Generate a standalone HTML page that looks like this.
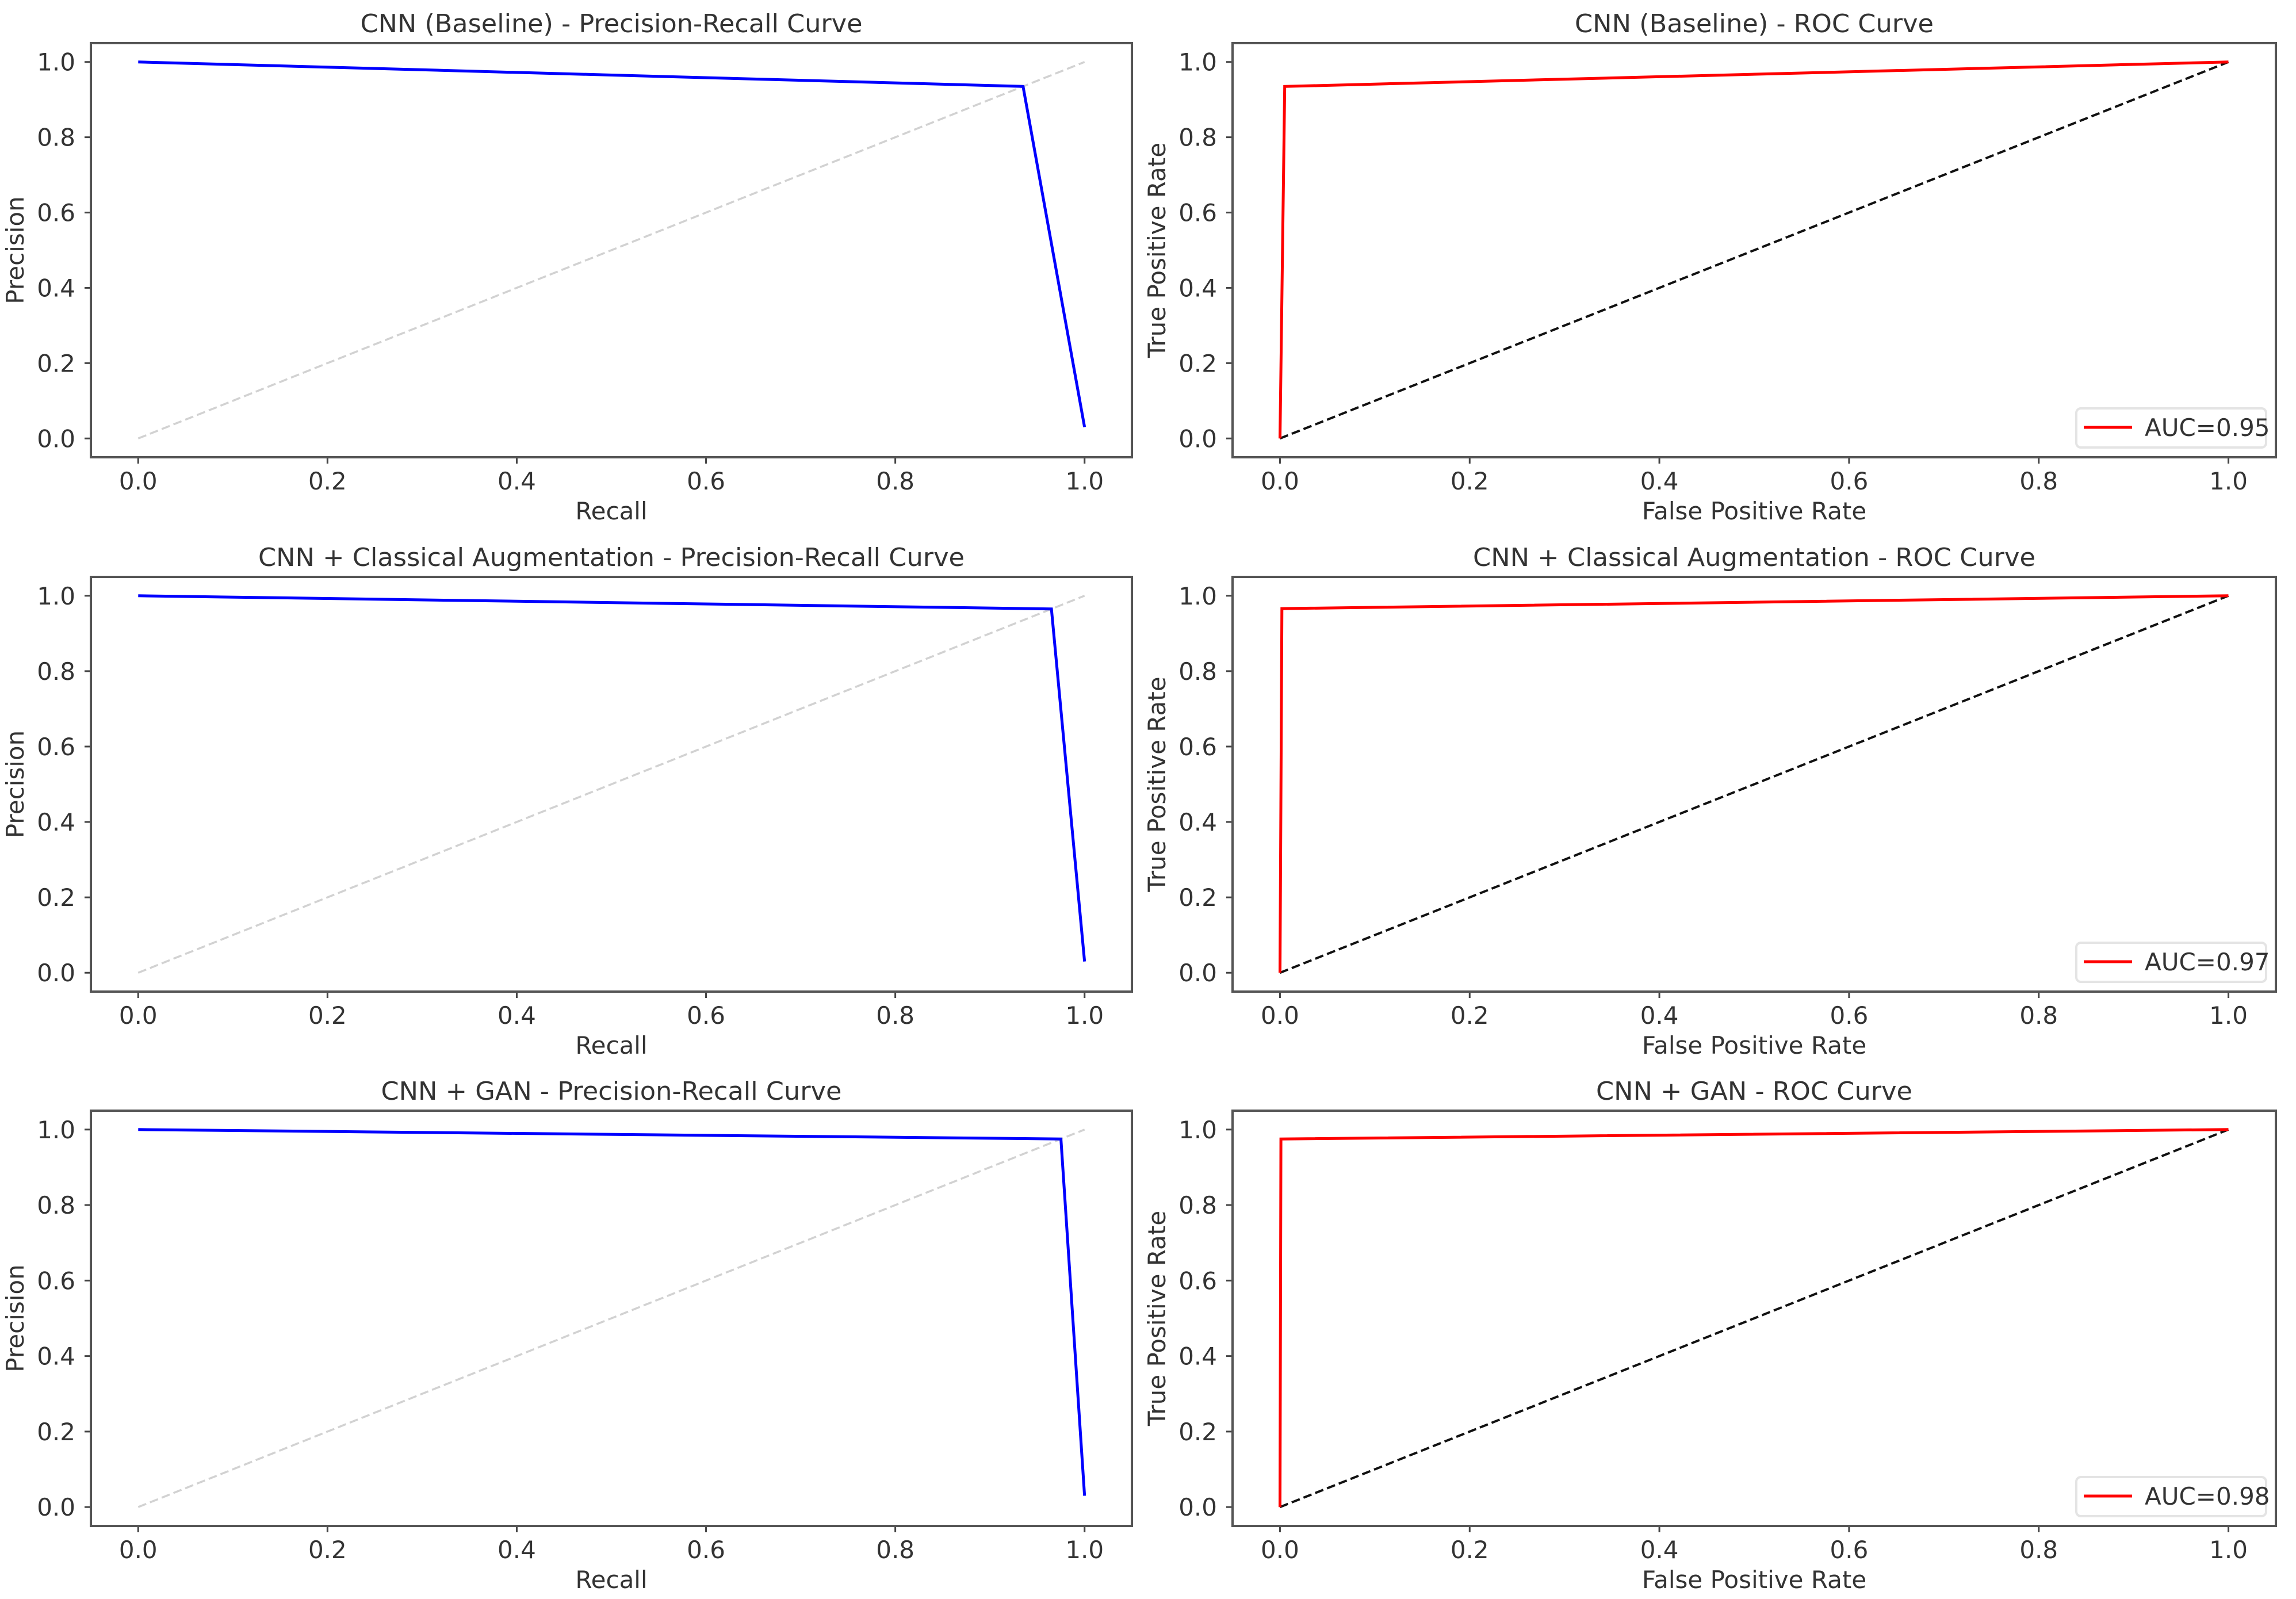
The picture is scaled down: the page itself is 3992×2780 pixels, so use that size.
<!DOCTYPE html>
<html><head><meta charset="utf-8">
<style>
html,body{margin:0;padding:0;background:#fff;}
svg{display:block;}
text{font-family:"DejaVu Sans","Liberation Sans",sans-serif;fill:#333;}
</style></head>
<body>
<svg id="fig" width="3992" height="2780" viewBox="0 0 3992 2780" xmlns="http://www.w3.org/2000/svg"></svg>
<script>
const modelNames = ["CNN (Baseline)", "CNN + Classical Augmentation", "CNN + GAN"];
const prRecall = [[0, 0.935, 1], [0, 0.965, 1], [0, 0.975, 1]];
const prPrecision = [[1, 0.935, 0.03], [1, 0.965, 0.03], [1, 0.975, 0.03]];
const rocFpr = [[0, 0.005, 1], [0, 0.002, 1], [0, 0.001, 1]];
const rocTpr = [[0, 0.935, 1], [0, 0.966, 1], [0, 0.975, 1]];
const aucLabels = ["AUC=0.95", "AUC=0.97", "AUC=0.98"];
const tickValues = [0, 0.2, 0.4, 0.6, 0.8, 1.0];
const tickLabels = ["0.0", "0.2", "0.4", "0.6", "0.8", "1.0"];
const prTitleWidths = [873, 1228, 801];
const rocTitleWidths = [624, 978, 550];

const NS = "http://www.w3.org/2000/svg";
const svg = document.getElementById("fig");
function mk(tag, attrs, parent) {
  const e = document.createElementNS(NS, tag);
  for (const k in attrs) e.setAttribute(k, attrs[k]);
  (parent || svg).appendChild(e);
  return e;
}
const XMIN = -0.05, XMAX = 1.05, YMIN = -0.05, YMAX = 1.05;
const cols = [{l: 158, r: 1968}, {l: 2143, r: 3957}];
const rows = [{t: 75, b: 795}, {t: 1003, b: 1724}, {t: 1931, b: 2653}];

function panel(ri, ci, kind) {
  const c = cols[ci], r = rows[ri];
  const g = mk("g", {});
  
  
  const sx = v => c.l + (v - XMIN) / (XMAX - XMIN) * (c.r - c.l);
  const sy = v => r.b - (v - YMIN) / (YMAX - YMIN) * (r.b - r.t);
  const title = mk("text", {x: (c.l + c.r) / 2, y: r.t - 19, "text-anchor": "middle", "font-size": 44,
    textLength: kind === 'pr' ? prTitleWidths[ri] : rocTitleWidths[ri], lengthAdjust: "spacingAndGlyphs"}, g);
  title.textContent = modelNames[ri] + (kind === 'pr' ? " - Precision-Recall Curve" : " - ROC Curve");
  
  
  tickValues.forEach((v, i) => {
    const x = sx(v);
    mk("line", {x1: x, x2: x, y1: r.b, y2: r.b + 11, stroke: "#444", "stroke-width": 3}, g);
    const tx = mk("text", {x: x, y: r.b + 56, "text-anchor": "middle", "font-size": 42}, g);
    tx.textContent = tickLabels[i];
    
    
    const y = sy(v);
    mk("line", {x1: c.l - 11, x2: c.l, y1: y, y2: y, stroke: "#444", "stroke-width": 3}, g);
    const ty = mk("text", {x: c.l - 27, y: y + 15, "text-anchor": "end", "font-size": 42}, g);
    ty.textContent = tickLabels[i];
    
    
  });
  const xl = mk("text", {x: (c.l + c.r) / 2, y: r.b + 108, "text-anchor": "middle", "font-size": 42}, g);
  xl.textContent = kind === 'pr' ? "Recall" : "False Positive Rate";
  
  
  const ycx = c.l - 117, ycy = (r.t + r.b) / 2;
  const yl = mk("text", {x: ycx, y: ycy, "text-anchor": "middle", "font-size": 42, transform: `rotate(-90 ${ycx} ${ycy})`}, g);
  yl.textContent = kind === 'pr' ? "Precision" : "True Positive Rate";
  
  
  const diag = mk("line", {x1: sx(0), y1: sy(0), x2: sx(1), y2: sy(1),
    stroke: kind === 'pr' ? "#d2d2d2" : "#111", "stroke-width": kind === 'pr' ? 3.5 : 4, "stroke-dasharray": "15 7"}, g);
  
  
  const xs = kind === 'pr' ? prRecall[ri] : rocFpr[ri];
  const ys = kind === 'pr' ? prPrecision[ri] : rocTpr[ri];
  const pts = xs.map((v, i) => sx(v).toFixed(1) + "," + sy(ys[i]).toFixed(1)).join(" ");
  const curve = mk("polyline", {points: pts, fill: "none", stroke: kind === 'pr' ? "#0000ff" : "#ff0000", "stroke-width": 5, "stroke-linejoin": "miter"}, g);
  
  
  const fr = mk("rect", {x: c.l, y: r.t, width: c.r - c.l, height: r.b - r.t, fill: "none", stroke: "#555", "stroke-width": 4}, g);
  
  
  if (kind === 'roc') {
    const lg = mk("g", {}, g);
    
    
    const lx = c.r - 347, ly = r.b - 85;
    mk("rect", {x: lx, y: ly, width: 330, height: 68, rx: 8, fill: "#fff", stroke: "#e4e4e4", "stroke-width": 4}, lg);
    mk("line", {x1: lx + 13, x2: lx + 97, y1: ly + 33, y2: ly + 33, stroke: "#ff0000", "stroke-width": 5}, lg);
    const lt = mk("text", {x: lx + 119, y: ly + 48, "font-size": 42}, lg);
    lt.textContent = aucLabels[ri];
    
    
  }
}
for (let ri = 0; ri < 3; ri++) { panel(ri, 0, 'pr'); panel(ri, 1, 'roc'); }
</script>
</body></html>
